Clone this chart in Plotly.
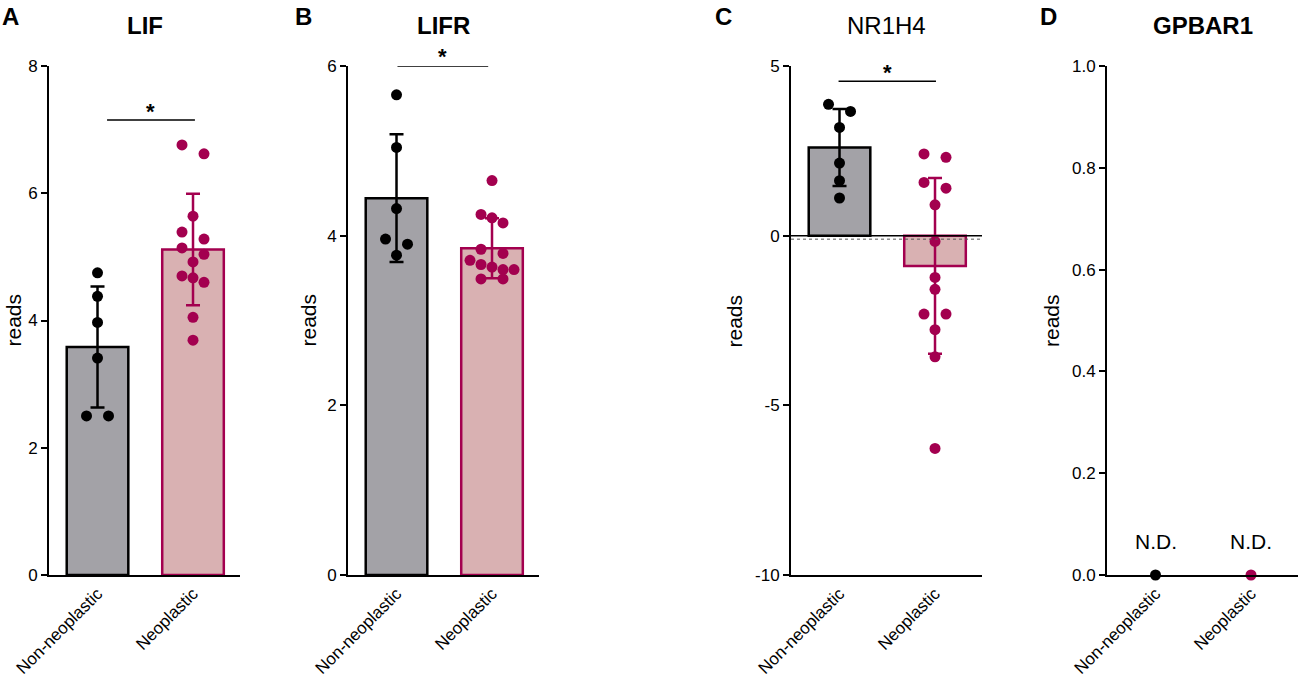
import numpy as np
import plotly.graph_objects as go

# ---------------- data ----------------
groups = ["Non-neoplastic", "Neoplastic"]
genes = ["LIF", "LIFR", "NR1H4", "GPBAR1"]
panel_letters = ["A", "B", "C", "D"]

lif_non_neoplastic = [4.75, 4.38, 3.97, 3.41, 2.50, 2.50]
lif_neoplastic = [6.76, 6.62, 5.64, 5.39, 5.28, 5.14, 5.04, 4.92, 4.70, 4.67, 4.60, 4.05, 3.69]
lifr_non_neoplastic = [5.66, 5.04, 4.32, 3.96, 3.90, 3.77]
lifr_neoplastic = [4.65, 4.25, 4.21, 4.15, 3.84, 3.79, 3.71, 3.66, 3.63, 3.60, 3.60, 3.49, 3.49]
nr1h4_non_neoplastic = [3.87, 3.66, 3.19, 2.14, 1.62, 1.11]
nr1h4_neoplastic = [2.41, 2.31, 1.57, 1.40, 0.91, -0.17, -1.23, -1.58, -2.31, -2.31, -2.77, -3.57, -6.27]
gpbar1_non_neoplastic = [0.0]
gpbar1_neoplastic = [0.0]

panel_data = [
    (lif_non_neoplastic, lif_neoplastic),
    (lifr_non_neoplastic, lifr_neoplastic),
    (nr1h4_non_neoplastic, nr1h4_neoplastic),
    (gpbar1_non_neoplastic, gpbar1_neoplastic),
]
detected = [True, True, True, False]
y_ranges = [[0, 8], [0, 6], [-10, 5], [0, 1]]
y_tickvals = [[0, 2, 4, 6, 8], [0, 2, 4, 6], [-10, -5, 0, 5], [0, 0.2, 0.4, 0.6, 0.8, 1.0]]
y_tickfmt = ["d", "d", "d", ".1f"]
significance = ["*", "*", "*", None]
nd_label = "N.D."

# ---------------- style / layout ----------------
W, H = 1299, 684
FONT = "Liberation Sans, Arial, Helvetica, sans-serif"
BLACK = "#000000"
MAGENTA = "#a3004f"
GRAY_FILL = "#a3a2a7"
PINK_FILL = "#d9b1b2"
fills = [GRAY_FILL, PINK_FILL]
edges = [BLACK, MAGENTA]

plot_left_px = [49, 348, 791, 1107]
plot_w_px = 191
plot_top_px, plot_bot_px = 66, 575
x_range = [-0.508, 1.492]
bar_width = 0.645
dot_px = 11
title_bold = [True, True, False, True]
letter_left_px = [0, 293, 713, 1038]
ylabel_center_px = [13, 308, 734, 1051.5]
sig_line = [(0.10, 1.02, 7.15), (0.01, 0.96, 6.0), (-0.01, 1.01, 4.55)]
baseline_offset_px = [-3.5, -3.5, -3.5, -4.5]

y_dom = [(H - plot_bot_px) / H, (H - plot_top_px) / H]
x_px_per_unit = plot_w_px / (x_range[1] - x_range[0])


def swarm_offsets(values, px_per_unit_y, diam_px, step_units):
    vals = np.asarray(values, dtype=float)
    order = np.argsort(-vals, kind="stable")
    rows = []
    for i in order:
        if rows and (vals[rows[-1][0]] - vals[i]) * px_per_unit_y < diam_px:
            rows[-1].append(i)
        else:
            rows.append([i])
    off = np.zeros(len(vals))
    for row in rows:
        n = len(row)
        spacing = step_units * (2.0 if n == 2 else 1.0)
        for k, i in enumerate(row):
            off[i] = (k - (n - 1) / 2) * spacing
    return off


fig = go.Figure()
annotations = []
shapes = []
layout_axes = {}

for p in range(4):
    sfx = "" if p == 0 else str(p + 1)
    xa, ya = "x" + sfx, "y" + sfx
    y_px_per_unit = (plot_bot_px - plot_top_px) / (y_ranges[p][1] - y_ranges[p][0])
    step = dot_px / x_px_per_unit

    for g in range(2):
        vals = np.asarray(panel_data[p][g], dtype=float)
        if detected[p]:
            mean = vals.mean()
            sd = vals.std(ddof=1)
            fig.add_trace(go.Bar(
                x=[g], y=[mean], width=bar_width, xaxis=xa, yaxis=ya,
                marker=dict(color=fills[g], line=dict(color=edges[g], width=2.5)),
                error_y=dict(type="data", array=[sd], visible=True,
                             color=edges[g], thickness=2.5, width=7),
                showlegend=False, hoverinfo="skip",
            ))
            offs = swarm_offsets(vals, y_px_per_unit, dot_px, step)
        else:
            offs = np.zeros(len(vals))
        fig.add_trace(go.Scatter(
            x=g + offs, y=vals, mode="markers", xaxis=xa, yaxis=ya,
            marker=dict(size=dot_px, color=edges[g], line=dict(width=0)),
            showlegend=False, hoverinfo="skip", cliponaxis=False,
        ))
        if not detected[p]:
            annotations.append(dict(
                x=g, y=0, xref=xa, yref=ya, text=nd_label, showarrow=False,
                yanchor="bottom", yshift=20, font=dict(family=FONT, size=21, color=BLACK),
            ))

    # axes
    left = plot_left_px[p] / W
    right = (plot_left_px[p] + plot_w_px) / W
    layout_axes["xaxis" + sfx] = dict(
        domain=[left, right], range=x_range, anchor=ya, automargin=False,
        showline=True, linecolor=BLACK, linewidth=2, ticks="",
        tickvals=[0, 1], ticktext=groups, tickangle=-45,
        tickfont=dict(family=FONT, size=17, color=BLACK),
        showgrid=False, zeroline=False, fixedrange=True,
    )
    layout_axes["yaxis" + sfx] = dict(
        domain=y_dom, range=y_ranges[p], anchor=xa, automargin=False,
        showline=True, linecolor=BLACK, linewidth=2,
        ticks="outside", ticklen=6, tickwidth=2, tickcolor=BLACK,
        tickvals=y_tickvals[p],
        ticktext=[format(v, y_tickfmt[p]) for v in y_tickvals[p]],
        tickfont=dict(family=FONT, size=17, color=BLACK),
        showgrid=False, zeroline=False, fixedrange=True,
    )

    # zero baselines
    if y_ranges[p][0] < 0:
        shapes.append(dict(type="line", xref=xa, yref=ya, x0=x_range[0], x1=x_range[1],
                           y0=0, y1=0, line=dict(color=BLACK, width=1.5)))
        shapes.append(dict(type="line", xref=xa, yref=ya, ysizemode="pixel", yanchor=0,
                           x0=x_range[0], x1=x_range[1], y0=-3.5, y1=-3.5,
                           line=dict(color="#555555", width=1, dash="dot")))
    else:
        shapes.append(dict(type="line", xref=xa, yref=ya, ysizemode="pixel", yanchor=0,
                           x0=x_range[0], x1=x_range[1],
                           y0=baseline_offset_px[p], y1=baseline_offset_px[p],
                           line=dict(color="#555555", width=1, dash="dot")))

    # significance
    if significance[p]:
        x0s, x1s, ys = sig_line[p]
        shapes.append(dict(type="line", xref=xa, yref=ya, x0=x0s, x1=x1s, y0=ys, y1=ys,
                           line=dict(color=BLACK, width=1.5)))
        annotations.append(dict(
            x=(x0s + x1s) / 2, y=ys, xref=xa, yref=ya, text=significance[p],
            showarrow=False, yanchor="middle", yshift=9,
            font=dict(family=FONT, size=22, color=BLACK, weight="bold"),
        ))

    # panel title
    annotations.append(dict(
        x=(plot_left_px[p] + plot_w_px / 2) / W, y=1 - 26 / H, xref="paper", yref="paper",
        text=genes[p], showarrow=False, xanchor="center", yanchor="middle",
        font=dict(family=FONT, size=24, color=BLACK,
                  weight="bold" if title_bold[p] else "normal"),
    ))
    # panel letter
    annotations.append(dict(
        x=letter_left_px[p] / W, y=1 - 16 / H, xref="paper", yref="paper",
        text=panel_letters[p], showarrow=False, xanchor="left", yanchor="middle",
        font=dict(family=FONT, size=24, color=BLACK, weight="bold"),
    ))
    # y label
    annotations.append(dict(
        x=ylabel_center_px[p] / W, y=(y_dom[0] + y_dom[1]) / 2, xref="paper", yref="paper",
        text="reads", showarrow=False, textangle=-90, xanchor="center", yanchor="middle",
        font=dict(family=FONT, size=21, color=BLACK),
    ))

fig.update_layout(
    template="none",
    width=W, height=H, margin=dict(l=0, r=0, t=0, b=0, autoexpand=False),
    paper_bgcolor="white", plot_bgcolor="white",
    showlegend=False, annotations=annotations, shapes=shapes,
    font=dict(family=FONT, color=BLACK),
    **layout_axes,
)

fig.write_html("out.html", config={"displayModeBar": False},
               post_script="document.body.style.margin='0';")
